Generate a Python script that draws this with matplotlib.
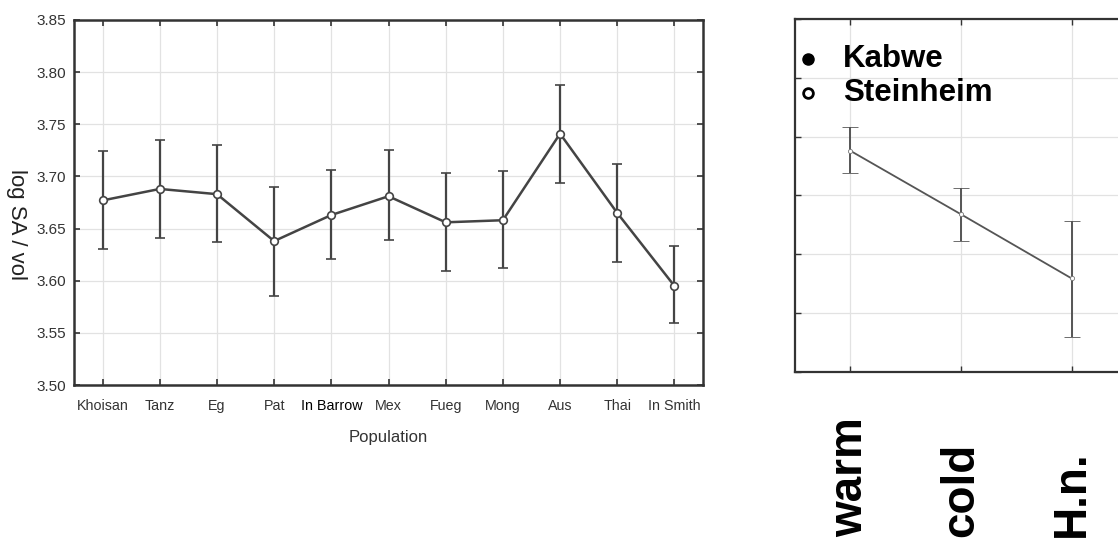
import matplotlib
matplotlib.use("Agg")
import matplotlib.pyplot as plt
import numpy as np

plt.rcParams['font.family'] = ['Liberation Sans', 'DejaVu Sans']

# left panel: log SA / vol by population
populations = ['Khoisan', 'Tanz', 'Eg', 'Pat', 'In Barrow', 'Mex',
               'Fueg', 'Mong', 'Aus', 'Thai', 'In Smith']
means = [3.677, 3.688, 3.683, 3.638, 3.663, 3.681, 3.656, 3.658, 3.741, 3.665, 3.595]
upper = [3.724, 3.735, 3.730, 3.690, 3.706, 3.725, 3.703, 3.705, 3.788, 3.712, 3.633]
lower = [3.630, 3.641, 3.637, 3.585, 3.621, 3.639, 3.609, 3.612, 3.694, 3.618, 3.559]

# right panel: climate groups (no y scale shown)
groups = ['warm', 'cold', 'H.n.']
g_means = [3.76, 2.68, 1.59]
g_upper = [4.17, 3.12, 2.56]
g_lower = [3.39, 2.22, 0.60]
legend_labels = ['Kabwe', 'Steinheim']

fig = plt.figure(figsize=(11.18, 5.39), dpi=100)

# ---- left panel
ax = fig.add_axes([0.0662, 0.2857, 0.5626, 0.6772])
x = np.arange(len(populations))
m = np.array(means)
yerr = [m - np.array(lower), np.array(upper) - m]
ax.errorbar(x, m, yerr=yerr, color='#444444', lw=1.8, elinewidth=1.6,
            capsize=3.5, capthick=1.6, marker='o', ms=5.5, mfc='white',
            mec='#444444', mew=1.2, zorder=3)
ax.set_xlim(-0.5, len(populations) - 0.5)
ax.set_ylim(3.50, 3.85)
ax.set_yticks(np.arange(3.50, 3.851, 0.05))
ax.set_yticklabels(['%.2f' % v for v in np.arange(3.50, 3.851, 0.05)])
ax.set_xticks(x)
ax.set_xticklabels(populations)
for lab in ax.get_xticklabels():
    if lab.get_text() == 'In Barrow':
        lab.set_color('black')
        lab.set_fontsize(11)
    else:
        lab.set_color('#333333')
for lab in ax.get_yticklabels():
    lab.set_color('#333333')
    lab.set_fontsize(11)
ax.tick_params(axis='x', pad=10, labelsize=10.3)
ax.tick_params(direction='in', length=4, width=1.2, color='#333333',
               top=True, right=True)
ax.tick_params(axis='y', pad=6)
ax.grid(True, color='#e2e2e2', lw=0.9)
ax.set_axisbelow(True)
for s in ax.spines.values():
    s.set_linewidth(1.8)
    s.set_color('#333333')
ax.set_xlabel('Population', fontsize=12, color='#333333', labelpad=12)
ax.set_ylabel('log SA / vol', fontsize=16, color='#222222', rotation=270,
              va='center')
ax.yaxis.set_label_coords(-0.092, 0.44)

# ---- right panel
ax2 = fig.add_axes([0.7111, 0.3098, 0.297, 0.655])
gx = np.arange(len(groups))
gm = np.array(g_means)
gerr = [gm - np.array(g_lower), np.array(g_upper) - gm]
ax2.errorbar(gx, gm, yerr=gerr, color='#555555', lw=1.3, elinewidth=1.4,
             capsize=6, capthick=1.4, marker='o', ms=3, mfc='white',
             mec='#777777', mew=0.6, zorder=3)
ax2.set_xlim(-0.5, 2.5)
ax2.set_ylim(0, 6)
ax2.set_yticks(np.arange(0, 7, 1))
ax2.set_xticks(gx)
ax2.tick_params(direction='in', length=4, width=1, color='#333333',
                top=True, right=True, labelleft=False, labelbottom=False)
ax2.grid(True, color='#e2e2e2', lw=0.9)
ax2.set_axisbelow(True)
for s in ax2.spines.values():
    s.set_linewidth(1.6)
    s.set_color('#333333')

# legend drawn as markers + bold text
ax2.plot([0.04], [0.888], transform=ax2.transAxes, marker='o', ms=8,
         color='black', ls='none', clip_on=False)
ax2.plot([0.04], [0.79], transform=ax2.transAxes, marker='o', ms=7,
         mfc='white', mec='black', mew=2, ls='none', clip_on=False)
ax2.text(0.145, 0.888, legend_labels[0], transform=ax2.transAxes,
         fontsize=22.5, fontweight='bold', va='center', ha='left')
ax2.text(0.145, 0.79, legend_labels[1], transform=ax2.transAxes,
         fontsize=22.5, fontweight='bold', va='center', ha='left')

# big rotated category labels below the panel
for xi, g in zip(gx, groups):
    xf = ax2.transData.transform((xi, 0))[0]
    xf = fig.transFigure.inverted().transform((xf, 0))[0]
    fig.text(xf, 0.004, g, rotation=90, fontsize=33, fontweight='bold',
             ha='center', va='bottom')

fig.savefig('out.png', dpi=100)
